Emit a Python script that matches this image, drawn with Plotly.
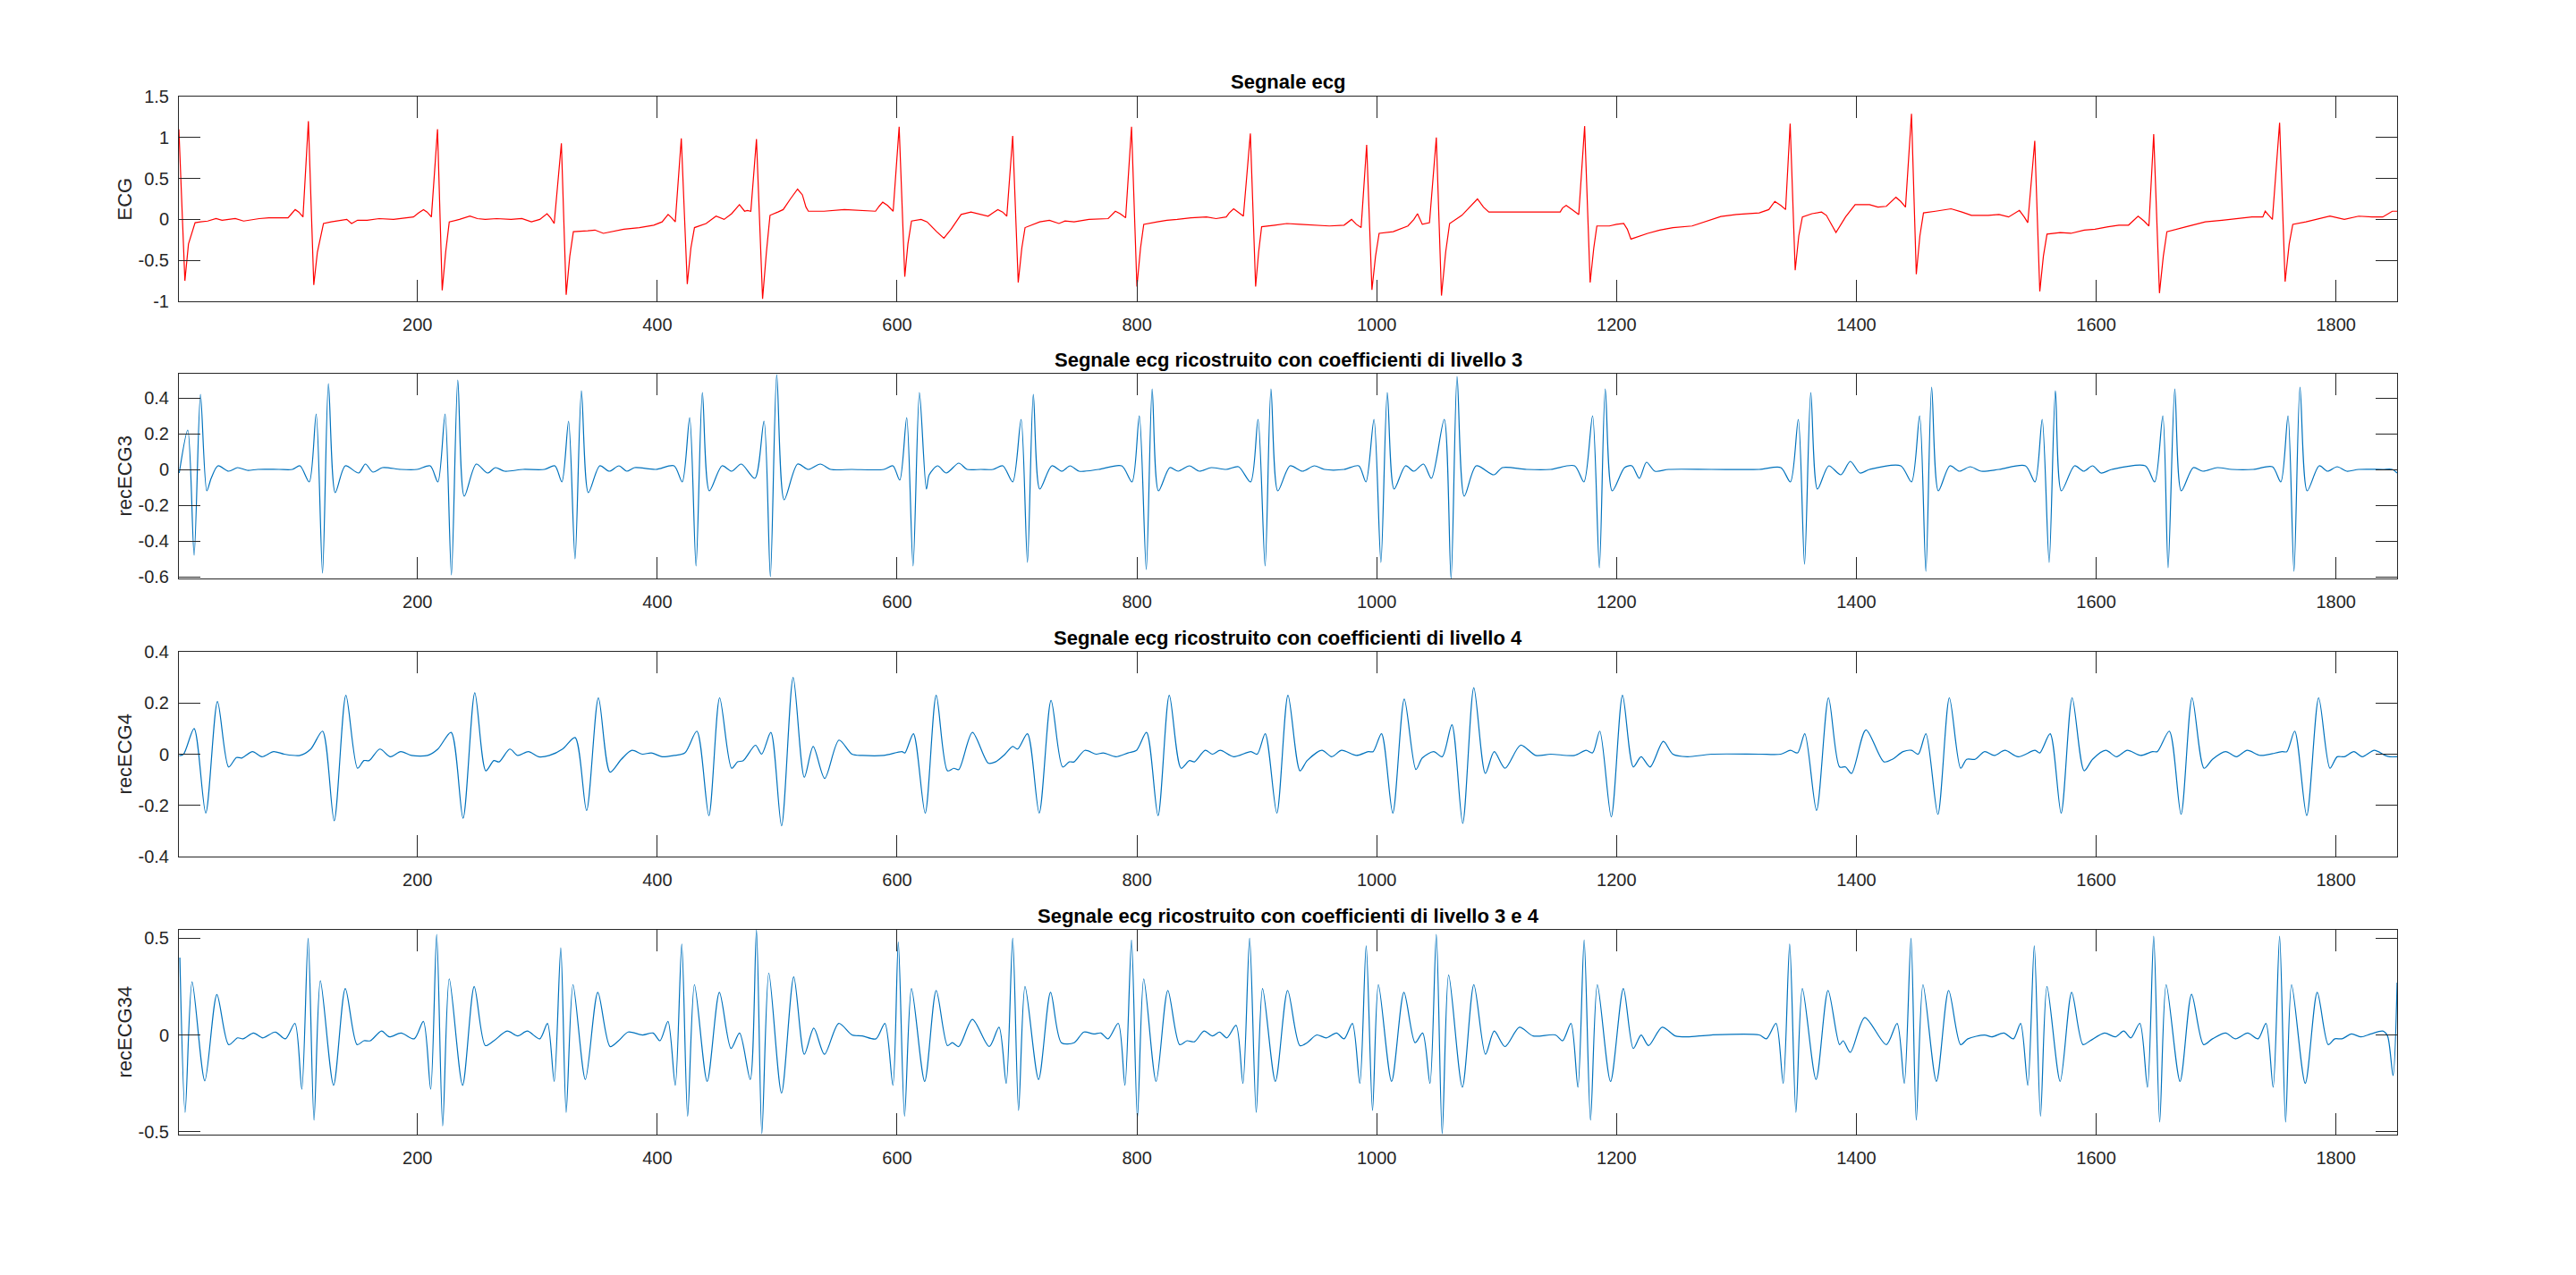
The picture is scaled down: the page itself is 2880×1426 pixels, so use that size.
import plotly.graph_objects as go

# ---------------- data ----------------
SAMPLE_RANGE = [1, 1851]
X_TICKS = [200, 400, 600, 800, 1000, 1200, 1400, 1600, 1800]

TITLES = ["Segnale ecg",
          "Segnale ecg ricostruito con coefficienti di livello 3",
          "Segnale ecg ricostruito con coefficienti di livello 4",
          "Segnale ecg ricostruito con coefficienti di livello 3 e 4"]
Y_LABELS = ["ECG", "recECG3", "recECG4", "recECG34"]

Y_RANGES = [[-1, 1.5], [-0.61, 0.535], [-0.4, 0.4], [-0.515, 0.543]]
Y_TICKVALS = [[-1, -0.5, 0, 0.5, 1, 1.5],
              [-0.6, -0.4, -0.2, 0, 0.2, 0.4],
              [-0.4, -0.2, 0, 0.2, 0.4],
              [-0.5, 0, 0.5]]
Y_TICKTEXT = [["-1", "-0.5", "0", "0.5", "1", "1.5"],
              ["-0.6", "-0.4", "-0.2", "0", "0.2", "0.4"],
              ["-0.4", "-0.2", "0", "0.2", "0.4"],
              ["-0.5", "0", "0.5"]]

ECG_POINTS = [
    (1, 1.10), (6, -0.75), (9, -0.30), (14.5, -0.04), (19, -0.03), (25, -0.02), (32, 0.01), (37, -0.01),
    (42.5, 0.0), (48, 0.01), (55, -0.02), (62, 0.0), (68, 0.01), (76, 0.02), (85, 0.02), (92, 0.02),
    (95, 0.07), (98, 0.12), (101, 0.09), (104.5, 0.03), (109, 1.20), (113.5, -0.80),
    (116.5, -0.40), (121.6, -0.05), (128, -0.03), (136, -0.01), (141, 0.0), (145, -0.05), (150, -0.01),
    (158, -0.01), (168, 0.01), (180, 0.0), (190, 0.02), (196.6, 0.03), (201, 0.08), (205, 0.12),
    (208, 0.09), (211.6, 0.03), (216.7, 1.10), (220.6, -0.865), (223.5, -0.40),
    (226.5, -0.03), (235, 0.0), (243.7, 0.04), (250, 0.01), (256.5, 0.0), (266, 0.01), (278, 0.0),
    (287, 0.01), (295, -0.03), (302, 0.0), (308, 0.07), (311, 0.02), (314, -0.05),
    (320, 0.93), (324, -0.92), (327, -0.45), (330, -0.15), (342, -0.14), (348, -0.13), (355, -0.17),
    (364, -0.14), (372, -0.12), (385, -0.10), (397, -0.07), (404, -0.03), (409, 0.06), (412, 0.02),
    (415, -0.03), (420, 0.99), (425, -0.79), (428, -0.35),
    (431, -0.10), (440.7, -0.05), (449, 0.04), (455.7, 0.0), (462, 0.07), (468.5, 0.18), (472.8, 0.10),
    (475, 0.11), (478, 0.10), (482.7, 0.98), (487.8, -0.97), (491, -0.40), (494, 0.05), (500.6, 0.09),
    (505, 0.12), (511, 0.25), (517, 0.37), (521, 0.30), (524, 0.15), (526, 0.10),
    (539, 0.10), (556, 0.12), (573, 0.11), (582, 0.10), (585, 0.16), (588, 0.21), (592, 0.17),
    (596.7, 0.10), (601.7, 1.13), (606.4, -0.70), (609, -0.30), (612, -0.02), (620, 0.0), (625, -0.03),
    (633, -0.15), (639, -0.23), (645, -0.12), (653.4, 0.06), (661.6, 0.09), (668, 0.07),
    (675.9, 0.04), (680, 0.08), (684, 0.12), (688, 0.09), (691.5, 0.04), (696.4, 1.02), (701, -0.77),
    (704, -0.35), (706.7, -0.10), (719, -0.03), (727, -0.01), (735, -0.05), (740, -0.02), (747.6, -0.03),
    (760, 0.0), (776, 0.01), (779, 0.06), (782, 0.10), (786, 0.07), (790.6, 0.02), (795.5, 1.13),
    (800, -0.82), (803, -0.35), (805.7, -0.06), (817, -0.03), (825, -0.01),
    (833.6, 0.0), (845, 0.02), (858, 0.03), (866, 0.01), (874.5, 0.03), (877, 0.08), (880.7, 0.13),
    (885, 0.08), (888.8, 0.04), (894.6, 1.05), (899, -0.82),
    (901.5, -0.40), (904, -0.09), (915, -0.07), (925, -0.05), (935.9, -0.06), (948, -0.07),
    (960.5, -0.08), (972.8, -0.07), (976, -0.03), (979, 0.0), (983, -0.06), (987, -0.10), (991.6, 0.91),
    (996, -0.86), (999, -0.45), (1002, -0.17), (1013.7, -0.15),
    (1026, -0.08), (1031, 0.0), (1034, 0.07), (1038, -0.06), (1044, -0.04), (1049.7, 1.0), (1054, -0.93),
    (1057.5, -0.40), (1060.8, -0.05), (1071, 0.05), (1079, 0.17), (1084, 0.25), (1089, 0.15),
    (1093.5, 0.09), (1112, 0.09), (1136.7, 0.09), (1153, 0.09), (1155, 0.14), (1158, 0.17),
    (1163, 0.12), (1168.5, 0.06), (1173.4, 1.14), (1178, -0.77),
    (1181, -0.35), (1183.6, -0.08), (1194, -0.08), (1200, -0.06), (1206, -0.05), (1209, -0.12),
    (1212, -0.24), (1226, -0.17), (1236, -0.13),
    (1247, -0.10), (1263, -0.08), (1275, -0.02), (1287, 0.036), (1300, 0.06), (1319, 0.08), (1327, 0.12),
    (1332, 0.22), (1337, 0.17), (1341, 0.12), (1344.8, 1.17), (1349, -0.62), (1352, -0.20), (1355, 0.03),
    (1363, 0.07), (1371, 0.09), (1375, 0.05), (1383, -0.16), (1391, 0.03),
    (1399, 0.18), (1411, 0.18), (1418, 0.15), (1425, 0.16), (1429, 0.22), (1433, 0.27), (1437, 0.22),
    (1441, 0.15), (1446, 1.29), (1450, -0.67), (1453, -0.20), (1456, 0.08), (1466, 0.10), (1479, 0.13),
    (1488, 0.09), (1496, 0.05), (1510, 0.05), (1519, 0.06), (1527, 0.03),
    (1532, 0.07), (1536, 0.11), (1540, 0.03), (1543, -0.04), (1548.8, 0.96), (1553, -0.88), (1556, -0.45),
    (1559, -0.18), (1570, -0.16), (1579, -0.17), (1590, -0.13), (1599, -0.12), (1610, -0.09),
    (1619, -0.07), (1627, -0.07), (1631, -0.01), (1635, 0.04), (1640, -0.02), (1644, -0.08),
    (1648, 1.04), (1652.8, -0.90), (1656, -0.45), (1659, -0.15), (1675, -0.09), (1691, -0.03),
    (1705, -0.01), (1719, 0.01), (1730, 0.03), (1739, 0.03), (1741, 0.10), (1744, 0.05), (1747, 0.0),
    (1753, 1.18), (1757.6, -0.76), (1761, -0.30), (1764, -0.06), (1775, -0.03), (1783, 0.0),
    (1795, 0.04), (1807, 0.0), (1819, 0.04), (1830, 0.03), (1839, 0.03), (1847, 0.10), (1851, 0.10)]

REC3_POINTS = [
    (1.3, -0.02), (8.4, 0.22), (13.7, -0.48), (19, 0.42), (24.3, -0.12), (27.9, -0.05), (33.6, 0.02),
    (42.5, -0.01), (50, 0.01), (58, -0.005), (66.8, 0.0), (84.5, 0.0), (95.6, 0.0), (102, 0.02),
    (109.7, -0.07), (115.5, 0.31), (120.8, -0.58), (125.7, 0.48), (131.4, -0.13), (139.8, 0.02),
    (150.9, -0.02), (156.6, 0.03), (162.8, -0.015), (170.8, 0.01), (186, 0.0), (199.6, 0.0),
    (210.6, 0.02), (217, -0.07), (223, 0.31), (228.3, -0.59), (233.6, 0.50), (239, -0.15), (249, 0.03),
    (258.4, -0.02), (265, 0.01), (272.6, -0.01), (288, 0.0), (305.8, 0.0), (314.6, 0.02), (320.4, -0.07),
    (326, 0.27), (331.4, -0.50), (336.7, 0.44), (342.5, -0.13), (352, 0.02), (360, -0.01), (368, 0.02),
    (374.5, -0.01), (381, 0.01), (398.7, 0.0), (414, 0.02), (420.8, -0.07), (427, 0.29), (432.3, -0.54),
    (437.6, 0.43), (443.4, -0.12), (454, 0.02), (462, -0.01), (470, 0.03), (481.4, -0.05), (489, 0.27),
    (494.3, -0.60), (499.6, 0.53), (505.8, -0.17), (517, 0.03), (526, 0.0), (535.9, 0.03), (544.7, 0.0),
    (562, 0.0), (589, 0.0), (596.5, 0.02), (602.2, -0.06), (608, 0.29), (613.3, -0.54), (618.6, 0.43),
    (624.4, -0.11), (626.8, -0.03), (633.8, 0.02), (641, -0.02), (651.4, 0.035), (658.3, 0.0),
    (669.8, 0.0), (680, 0.0), (688.2, 0.02), (696.4, -0.07), (703.4, 0.28), (708.7, -0.52),
    (713.6, 0.42), (719, -0.11), (729, 0.02), (737.4, -0.01), (744.3, 0.02), (751.7, -0.01), (768, 0.0),
    (787.3, 0.02), (795.9, -0.07), (802, 0.30), (807.8, -0.56), (812.7, 0.45), (818, -0.12),
    (827.4, 0.01), (834.4, -0.01), (843.8, 0.02), (852, -0.01), (862, 0.01), (874.5, 0.0),
    (884.7, 0.015), (894.8, -0.07), (901, 0.28), (906.9, -0.54), (911.8, 0.45), (917.5, -0.12),
    (927.7, 0.02), (938, -0.01), (948, 0.02), (956.4, 0.0), (972.8, 0.0), (985, 0.02), (991, -0.07),
    (997.7, 0.28), (1003.5, -0.52), (1008.8, 0.43), (1014.5, -0.11), (1024, 0.02), (1031, -0.01),
    (1039, 0.03), (1045.6, -0.05), (1056.3, 0.28), (1062, -0.61), (1067, 0.52), (1073, -0.15),
    (1083, 0.02), (1097.7, -0.03), (1104.8, 0.01), (1125, 0.0), (1145, 0.0), (1165, 0.02),
    (1172.8, -0.07), (1180, 0.30), (1185.7, -0.55), (1190.6, 0.45), (1196.4, -0.12), (1206.7, 0.01),
    (1212.8, 0.02), (1219, -0.05), (1225, 0.04), (1232, -0.01), (1243.5, 0.0), (1279, 0.0), (1319, 0.0),
    (1337, 0.01), (1345, -0.07), (1351.6, 0.28), (1356.8, -0.53), (1362, 0.43), (1367.6, -0.11),
    (1377, 0.02), (1387, -0.03), (1395, 0.045), (1403, -0.02), (1411, 0.0), (1437, 0.02), (1446, -0.07),
    (1452.8, 0.30), (1458, -0.57), (1462.8, 0.46), (1468.4, -0.12), (1478, 0.02), (1486, -0.01),
    (1495, 0.015), (1504, -0.01), (1519, 0.0), (1541, 0.02), (1549, -0.07), (1555, 0.28),
    (1560.8, -0.52), (1566, 0.44), (1571, -0.12), (1582, 0.02), (1589.6, -0.01), (1597, 0.02),
    (1604, -0.02), (1613, 0.0), (1641, 0.02), (1648.8, -0.07), (1655.6, 0.30), (1660, -0.55),
    (1665.6, 0.45), (1671, -0.12), (1681, 0.01), (1689, -0.01), (1701, 0.01), (1713, 0.0), (1731, 0.0),
    (1747, 0.015), (1754, -0.07), (1760, 0.30), (1765, -0.57), (1770, 0.46), (1776, -0.12), (1786, 0.02),
    (1793, -0.01), (1801, 0.015), (1809, -0.01), (1819, 0.0), (1839, 0.0), (1847, 0.0), (1851, -0.02)]

REC4_POINTS = [
    (1.3, -0.006), (4.9, 0.0), (13.7, 0.10), (23.4, -0.23), (33.2, 0.206), (42.5, -0.05), (49, -0.013),
    (53.5, -0.015), (62.4, 0.01), (70.3, -0.01), (80, 0.01), (88.9, 0.0), (102, -0.005), (111, 0.02),
    (120.8, 0.09), (130.5, -0.26), (140.3, 0.23), (150, -0.055), (155.3, -0.025), (159.7, -0.025),
    (168.6, 0.02), (177.4, -0.01), (186, 0.01), (195, -0.005), (208.4, -0.005), (217, 0.02),
    (228, 0.085), (238, -0.25), (247.8, 0.24), (257, -0.065), (263.7, -0.025), (268, -0.03), (277, 0.02),
    (283.6, -0.005), (292.5, 0.01), (301, -0.01), (310, -0.005), (321, 0.02), (331.4, 0.065),
    (341, -0.22), (350.9, 0.22), (360.6, -0.07), (370, -0.02), (378.8, 0.015), (387.6, 0.0),
    (395, 0.005), (404, -0.01), (414, -0.005), (423, 0.005), (433, 0.09), (443, -0.24), (452, 0.22),
    (462, -0.055), (467, -0.03), (471.7, -0.025), (481.9, 0.035), (487, 0.0), (494.7, 0.085),
    (503.6, -0.28), (513.3, 0.30), (522.6, -0.09), (530, 0.03), (539.6, -0.095), (551.5, 0.055),
    (562.4, 0.0), (571, -0.005), (588.8, -0.005), (604, 0.01), (606.5, 0.005), (613.6, 0.08),
    (623.4, -0.23), (632.6, 0.23), (642, -0.065), (647.3, -0.055), (651.4, -0.06), (662.8, 0.085),
    (676, -0.035), (682, -0.03), (690, 0.0), (696.4, 0.03), (700.5, 0.02), (708.7, 0.08), (718.5, -0.23),
    (728.4, 0.21), (738, -0.05), (743.5, -0.03), (747.6, -0.03), (756.6, 0.015), (766, 0.0), (772, 0.005),
    (782.4, -0.01), (792.6, 0.005), (799.6, 0.015), (808, 0.085), (817.6, -0.24), (827, 0.23),
    (836.8, -0.055), (843.8, -0.025), (848, -0.03), (857, 0.015), (863, 0.0), (869.5, 0.015),
    (880.7, -0.01), (895, 0.01), (900.3, 0.0), (907, 0.08), (916.7, -0.23), (926, 0.23), (936, -0.065),
    (942, -0.025), (954.3, 0.015), (962.5, -0.01), (970.7, 0.015), (983, -0.005), (993, 0.01),
    (997, 0.01), (1004, 0.08), (1013.4, -0.23), (1023, 0.215), (1032.7, -0.06), (1038, -0.015),
    (1047.5, 0.01), (1054.6, -0.01), (1062.7, 0.115), (1071.7, -0.27), (1081, 0.26), (1090.6, -0.075),
    (1098, 0.01), (1107, -0.055), (1120, 0.035), (1132.6, -0.005), (1145, 0.0), (1165, -0.005),
    (1174.6, 0.015), (1180, 0.005), (1186, 0.09), (1195.6, -0.245), (1205, 0.23), (1214, -0.05),
    (1220.5, -0.01), (1228, -0.05), (1239, 0.05), (1247, 0.0), (1259, -0.01), (1279, 0.0), (1319, 0.0),
    (1337, 0.0), (1345, 0.015), (1351, 0.005), (1357, 0.08), (1366.8, -0.22), (1376.8, 0.22),
    (1386, -0.05), (1391, -0.05), (1396, -0.075), (1408, 0.095), (1423, -0.03), (1430, -0.02),
    (1439, 0.01), (1446, 0.015), (1451.6, 0.0), (1458, 0.08), (1468, -0.235), (1477.6, 0.22),
    (1487, -0.055), (1492, -0.02), (1499, -0.02), (1507, 0.01), (1515, -0.005), (1524, 0.015),
    (1535, -0.01), (1549, 0.015), (1553, 0.005), (1561.6, 0.08), (1570.8, -0.23), (1580, 0.22),
    (1590, -0.065), (1597, -0.02), (1608, 0.015), (1617, -0.01), (1626, 0.015), (1637, -0.005),
    (1647, 0.01), (1651, 0.01), (1661, 0.09), (1670.8, -0.235), (1680, 0.22), (1690, -0.055),
    (1697, -0.02), (1708, 0.01), (1717, -0.01), (1726, 0.015), (1737, -0.005), (1755, 0.01),
    (1759, 0.01), (1765.6, 0.09), (1775.6, -0.24), (1785.6, 0.22), (1795, -0.055), (1801, -0.01),
    (1807, -0.01), (1815, 0.01), (1822, -0.01), (1832, 0.015), (1841, -0.005), (1845, -0.01),
    (1851, -0.01)]

REC34_POINTS = [
    (1.8, 0.40), (6.2, -0.40), (12, 0.274), (22.6, -0.237), (32.7, 0.209), (42.5, -0.05), (50, -0.015),
    (54.4, -0.02), (63.3, 0.01), (71, -0.015), (81.4, 0.015), (89.8, -0.02), (97.8, 0.06),
    (103.5, -0.28), (108.8, 0.50), (113.7, -0.44), (119, 0.28), (130, -0.26), (139.8, 0.24),
    (149.6, -0.05), (155.3, -0.03), (160.6, -0.03), (170, 0.02), (176.5, -0.01), (186.3, 0.01),
    (197.3, -0.02), (204.9, 0.07), (211, -0.28), (216, 0.52), (221, -0.47), (226.5, 0.29),
    (237.6, -0.26), (247.3, 0.25), (256.6, -0.055), (263.7, -0.03), (274.8, 0.02), (283.6, -0.005),
    (291.6, 0.02), (302, -0.02), (308.4, 0.06), (314, -0.24), (319.5, 0.45), (324, -0.40), (329.7, 0.26),
    (340, -0.23), (350.4, 0.22), (360.6, -0.06), (367.7, -0.03), (375.7, 0.015), (387.6, 0.0),
    (396.5, 0.01), (402.2, -0.03), (408.9, 0.07), (415, -0.26), (420.4, 0.47), (425.3, -0.42),
    (431, 0.26), (441.6, -0.24), (451.8, 0.22), (461.5, -0.07), (468.6, 0.01), (477.5, -0.23),
    (482.7, 0.543), (487.2, -0.51), (493, 0.32), (503.6, -0.30), (513.8, 0.30), (522.6, -0.10),
    (530.5, 0.035), (539.4, -0.10), (551.3, 0.06), (562.4, 0.0), (571, -0.005), (582.3, -0.02),
    (589.8, 0.06), (596.5, -0.26), (601, 0.48), (606.2, -0.42), (612, 0.24), (623, -0.24), (632.6, 0.23),
    (642, -0.055), (646, -0.04), (651.4, -0.06), (662.8, 0.08), (676.8, -0.06), (685, 0.04),
    (691, -0.25), (696.4, 0.50), (701.3, -0.39), (706.7, 0.25), (718, -0.23), (728, 0.22), (737, -0.04),
    (747.6, -0.04), (755.8, 0.015), (764, 0.005), (770, 0.01), (776, -0.02), (784.4, 0.06), (790, -0.26),
    (795.5, 0.49), (800.4, -0.43), (805.7, 0.29), (816, -0.24), (825.8, 0.23), (835.6, -0.05),
    (841.8, -0.03), (848, -0.035), (856, 0.02), (863, -0.005), (869, 0.015), (875, -0.015),
    (882.7, 0.05), (888.4, -0.25), (894, 0.50), (899.5, -0.40), (904.8, 0.24), (915.5, -0.24),
    (925.7, 0.23), (935.9, -0.055), (942, -0.04), (950, 0.0), (958, -0.015), (966.4, 0.01),
    (972.8, -0.02), (979.7, 0.06), (985.9, -0.25), (991.2, 0.46), (996.5, -0.39), (1001.4, 0.26),
    (1012.4, -0.24), (1022.7, 0.22), (1032, -0.04), (1038.3, 0.01), (1044.4, -0.25), (1049.7, 0.52),
    (1054.6, -0.51), (1060, 0.31), (1071.4, -0.27), (1081, 0.26), (1090.7, -0.10), (1098, 0.02),
    (1107, -0.06), (1119, 0.04), (1130.4, -0.005), (1149, 0.0), (1155, -0.03), (1162, 0.06),
    (1167.8, -0.27), (1173, 0.49), (1178.3, -0.44), (1184, 0.26), (1195, -0.24), (1205.7, 0.24),
    (1214, -0.07), (1220.5, 0.0), (1226.7, -0.055), (1238, 0.04), (1249, -0.005), (1259, -0.01),
    (1279, 0.0), (1319, 0.0), (1325, -0.02), (1333, 0.06), (1339, -0.25), (1344.4, 0.47),
    (1349.6, -0.40), (1355, 0.24), (1366.4, -0.23), (1376.4, 0.23), (1386, -0.05), (1389, -0.03),
    (1395, -0.09), (1407, 0.09), (1425, -0.05), (1434, 0.06), (1440, -0.25), (1445.6, 0.50),
    (1450, -0.44), (1455.6, 0.26), (1466.8, -0.24), (1477, 0.23), (1487, -0.05), (1493, -0.02),
    (1507, 0.0), (1513, -0.01), (1523, 0.01), (1531, -0.02), (1537, 0.06), (1543, -0.26),
    (1548.4, 0.46), (1553.6, -0.42), (1559, 0.25), (1570, -0.24), (1579.6, 0.22), (1589, -0.05),
    (1595, -0.03), (1607, 0.01), (1616, -0.01), (1623, 0.02), (1629, -0.015), (1636.4, 0.06),
    (1642.8, -0.27), (1648, 0.51), (1653, -0.45), (1658.4, 0.26), (1670, -0.24), (1679.6, 0.21),
    (1689.6, -0.05), (1697, -0.02), (1708, 0.01), (1716, -0.02), (1726.4, 0.01), (1735, -0.02),
    (1741.6, 0.06), (1747.6, -0.27), (1753, 0.51), (1758, -0.45), (1763, 0.26), (1774.4, -0.25),
    (1784.4, 0.22), (1793.6, -0.05), (1799, -0.02), (1805, -0.02), (1813, 0.005), (1821, -0.01),
    (1829, 0.005), (1839, 0.02), (1843, -0.005), (1847.6, -0.21), (1851, 0.27)]

SERIES = [ECG_POINTS, REC3_POINTS, REC4_POINTS, REC34_POINTS]

# ---------------- styling / layout ----------------
W, H = 2880, 1426
FONT = "Liberation Sans, Arial, Helvetica, sans-serif"
AX_COLOR = "#262626"
LINE_COLORS = ["#FF0000", "#0072BD", "#0072BD", "#0072BD"]
LINE_SHAPES = ["linear", "spline", "spline", "spline"]
AX_LEFT, AX_RIGHT = 200, 2680
AX_TOPS = [108, 418, 729, 1040]
AX_H = 229

fig = go.Figure()
layout = dict(
    template="none",
    width=W, height=H, margin=dict(l=0, r=0, t=0, b=0, pad=0, autoexpand=False),
    paper_bgcolor="white", plot_bgcolor="white", showlegend=False,
    font=dict(family=FONT, size=20, color=AX_COLOR),
)
annotations = []
for i, pts in enumerate(SERIES):
    xs = [p[0] for p in pts]
    ys = [p[1] for p in pts]
    n = "" if i == 0 else str(i + 1)
    fig.add_trace(go.Scatter(
        x=xs, y=ys, mode="lines", xaxis="x" + n, yaxis="y" + n,
        line=dict(color=LINE_COLORS[i], width=1.2, shape=LINE_SHAPES[i],
                  smoothing=0.8 if LINE_SHAPES[i] == "spline" else None),
        hoverinfo="skip"))
    top = AX_TOPS[i]
    bot = top + AX_H
    common = dict(showline=True, linecolor=AX_COLOR, linewidth=1, mirror="ticks",
                  ticks="inside", ticklen=24, tickwidth=1, tickcolor=AX_COLOR,
                  showgrid=False, zeroline=False, automargin=False,
                  tickfont=dict(family=FONT, size=20, color=AX_COLOR))
    layout["xaxis" + n] = dict(
        domain=[AX_LEFT / W, AX_RIGHT / W], range=SAMPLE_RANGE, anchor="y" + n,
        tickvals=X_TICKS, ticktext=[str(v) for v in X_TICKS], ticklabelstandoff=8, **common)
    layout["yaxis" + n] = dict(
        domain=[1 - bot / H, 1 - top / H], range=Y_RANGES[i], anchor="x" + n,
        tickvals=Y_TICKVALS[i], ticktext=Y_TICKTEXT[i], ticklabelstandoff=6, **common)
    annotations.append(dict(
        text="<b>" + TITLES[i] + "</b>", xref="paper", yref="paper",
        x=(AX_LEFT + AX_RIGHT) / 2 / W, y=1 - (top - 16) / H,
        xanchor="center", yanchor="middle", showarrow=False,
        font=dict(family=FONT, size=22, color="#000000")))
    annotations.append(dict(
        text=Y_LABELS[i], xref="paper", yref="paper",
        x=139 / W, y=1 - (top + AX_H / 2) / H, textangle=-90,
        xanchor="center", yanchor="middle", showarrow=False,
        font=dict(family=FONT, size=22, color=AX_COLOR)))
layout["annotations"] = annotations
fig.update_layout(**layout)
fig.write_html("out.html", config={"displayModeBar": False},
               post_script="document.body.style.margin='0';document.body.style.overflow='hidden';")
